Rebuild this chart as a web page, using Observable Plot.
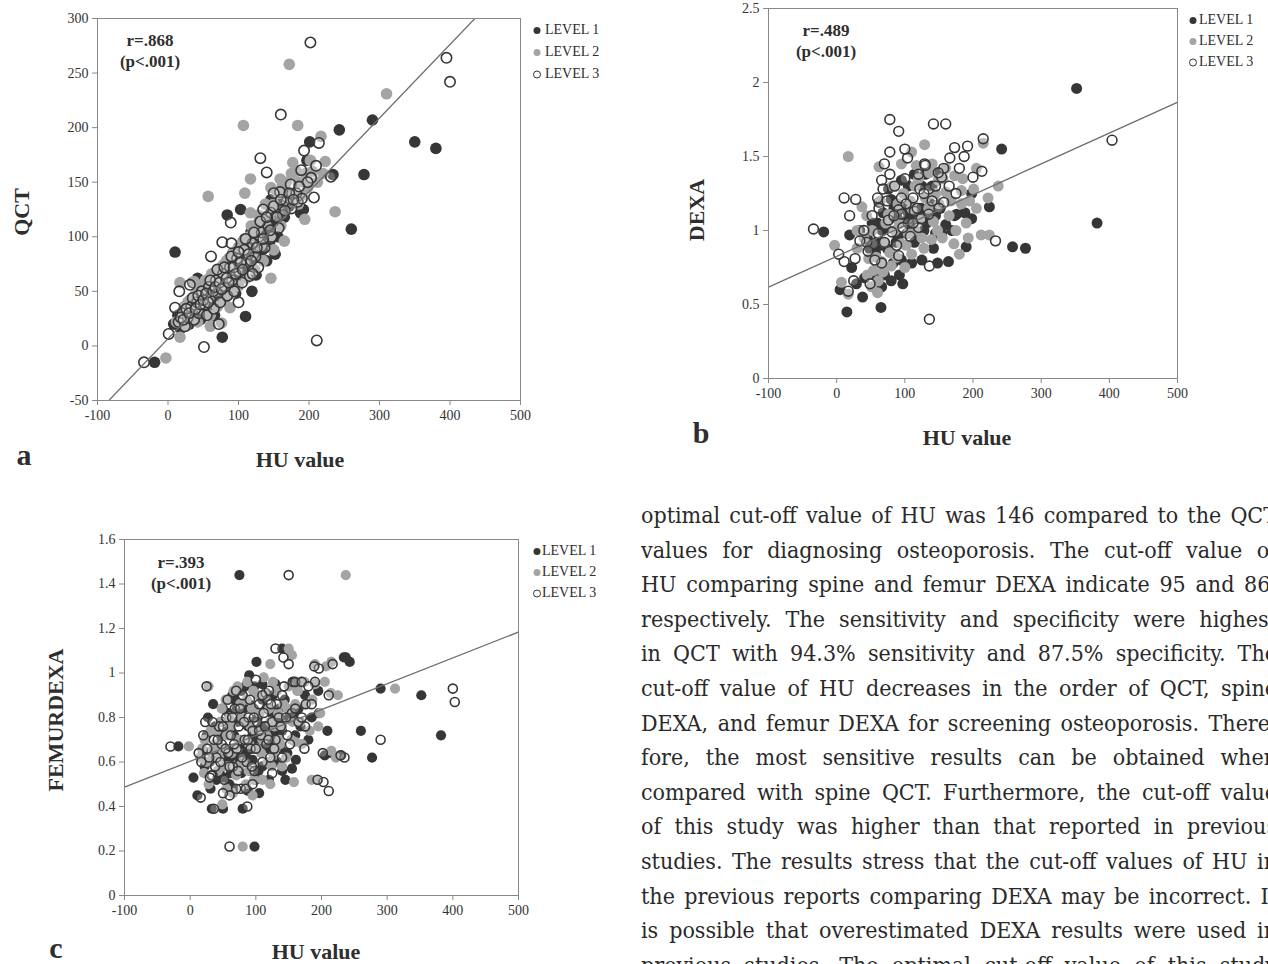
<!DOCTYPE html>
<html><head><meta charset="utf-8">
<script src="https://cdn.jsdelivr.net/npm/d3@7"></script>
<script src="https://cdn.jsdelivr.net/npm/@observablehq/plot@0.6"></script>
<style>
html,body{margin:0;padding:0;background:#fff;}
body{width:1268px;height:964px;overflow:hidden;position:relative;}
.abs{position:absolute;white-space:nowrap;}
.serif{font-family:"Liberation Serif","Times New Roman",serif;color:#2e2e2e;}
.title{font-weight:bold;font-size:22px;}
.stat{font-weight:bold;font-size:17px;text-align:center;line-height:20px;}
.letter{font-weight:bold;font-size:30px;}
.leg{font-size:14px;line-height:14px;}
.para{font-family:"DejaVu Serif Condensed","DejaVu Serif",serif;font-stretch:condensed;font-size:23px;color:#2a2a2a;
  text-align:justify;text-align-last:justify;overflow:hidden;height:34px;line-height:34px;}
</style></head><body>
<script>
// ---------- data ----------
const xTicks = [-100, 0, 100, 200, 300, 400, 500];
const yTicksA = [-50, 0, 50, 100, 150, 200, 250, 300];
const yTicksB = [0, 0.5, 1, 1.5, 2, 2.5];
const yTicksC = [0, 0.2, 0.4, 0.6, 0.8, 1, 1.2, 1.4, 1.6];
const levels = ["LEVEL 1", "LEVEL 2", "LEVEL 3"];
const statA = ["r=.868", "(p<.001)"];
const statB = ["r=.489", "(p<.001)"];
const statC = ["r=.393", "(p<.001)"];
const fitA = {slope: 0.674, intercept: 6.6};
const fitB = {slope: 0.002082, intercept: 0.825};
const fitC = {slope: 0.001162, intercept: 0.603};

// Panel a: HU value vs QCT
const a1 = [[-19,-15],[10,86],[77,8],[110,27],[119,50],[84,120],[103,125],[243,198],[290,207],[350,187],[380,181],[278,157],[234,157],[260,107],[201,187],[197,170],[146,134],[170,140],[192,125],
[8,20],[14,28],[18,16],[22,33],[26,24],[30,20],[33,36],[36,28],[40,42],[43,32],[46,24],[48,45],[51,37],[54,30],[56,52],[58,42],[61,35],[63,58],[65,48],[68,40],[70,64],[72,55],[75,45],[77,70],[79,60],[82,50],[85,78],[87,66],[90,56],[92,85],[95,72],[97,62],[100,90],[103,80],[106,68],[109,98],[112,86],[115,75],[118,105],[121,92],[124,82],[128,112],[131,100],[134,88],[138,118],[141,106],[144,95],[148,124],[152,112],[156,100],[160,130],[165,118],[172,128],[180,135],[188,122],[42,62],[35,58],[66,28],[96,48],[140,78],[152,84],[125,65],
[20,22],[24,30],[29,26],[34,30],[38,38],[41,30],[47,40],[50,46],[53,40],[57,48],[60,50],[64,52],[67,56],[70,50],[73,60],[76,62],[80,66],[83,70],[86,72],[89,75],[93,76],[96,80],[99,84],[102,72],[105,88],[108,80],[111,92],[114,94],[117,88],[122,100],[126,96],[130,106],[135,110],[139,100],[143,114],[150,118],[155,126],[162,122],[168,134],[175,138],[60,40],[72,48],[88,60],[100,70],[116,96]];
const a2 = [[-3,-11],[17,8],[76,21],[17,58],[37,59],[146,62],[57,137],[107,202],[184,202],[172,258],[310,231],[237,123],[194,116],[217,192],[177,168],[159,153],[223,169],[146,145],[117,153],[109,140],[117,122],
[12,22],[20,30],[25,18],[28,40],[32,28],[38,46],[42,22],[45,52],[50,34],[53,60],[57,44],[60,28],[62,66],[66,50],[70,36],[73,70],[76,56],[80,42],[83,78],[86,62],[90,48],[93,86],[97,70],[100,55],[104,92],[107,76],[111,62],[115,100],[119,84],[123,70],[127,108],[131,92],[135,78],[140,116],[145,100],[150,88],[155,124],[160,110],[165,96],[170,132],[178,140],[185,150],[190,138],[198,145],[205,160],[212,150],[220,158],[128,120],[160,140],[185,130],[202,170],[60,18],[88,35],
[18,24],[23,36],[27,32],[31,42],[35,36],[40,48],[44,40],[48,56],[52,48],[55,56],[59,62],[63,54],[67,62],[71,58],[74,64],[78,74],[82,68],[86,80],[90,76],[94,80],[98,88],[102,84],[106,96],[110,90],[114,86],[118,110],[122,104],[126,98],[130,116],[134,112],[138,130],[144,120],[150,130],[156,140],[162,146],[168,150],[175,158],[182,160],[195,158],[200,150]];
const a3 = [[-34,-15],[1,11],[10,35],[16,50],[31,56],[51,-1],[211,5],[202,278],[395,264],[400,242],[160,212],[131,172],[140,159],[189,161],[193,179],[214,186],[207,136],[159,141],[174,148],[89,113],[61,82],[77,95],[90,94],[131,97],[146,122],[163,128],[184,132],[203,154],[231,155],[210,165],
[15,22],[20,30],[24,18],[28,26],[33,36],[37,24],[41,40],[44,30],[48,50],[52,38],[55,28],[58,54],[62,44],[65,34],[68,60],[71,48],[74,40],[78,66],[81,54],[84,46],[88,72],[91,60],[94,50],[98,80],[101,68],[105,58],[108,88],[112,76],[116,64],[120,94],[124,82],[128,72],[133,104],[137,90],[142,110],[147,100],[152,118],[157,108],[163,120],[168,132],[175,126],[182,140],[190,135],[198,150],[120,66],[72,20],[100,40],[135,125],[150,140],
[18,26],[22,24],[26,34],[30,30],[35,44],[39,34],[43,46],[46,38],[50,42],[54,48],[57,40],[60,60],[64,50],[67,54],[70,70],[73,58],[76,52],[80,72],[83,62],[86,58],[90,82],[93,72],[96,66],[100,86],[103,76],[106,70],[110,98],[114,84],[118,78],[122,104],[126,90],[131,114],[135,98],[140,118],[145,106],[150,128],[155,118],[160,134],[166,124],[172,140],[178,134],[186,146]];

// Panel b: HU value vs DEXA
const b1 = [[352,1.96],[382,1.05],[242,1.55],[-19,0.99],[19,0.97],[15,0.45],[65,0.48],[38,0.55],[5,0.60],[97,0.64],[258,0.89],[277,0.88],[190,0.89],[164,0.79],[148,0.78],[176,1.11],[188,1.12],[198,1.08],[224,1.16],[154,0.98],[169,1.0],[142,0.88],[29,0.64],[22,0.75],[59,0.60],[34,1.0],[114,0.92],[83,0.78],[95,0.80],[70,0.70],[41,0.68],[114,1.38],[76,1.28],[62,1.19],[173,1.10],[130,1.38],[150,1.39],[145,1.10],[198,1.25],[80,1.21],[88,1.1],[100,1.06],[105,1.12],[120,1.08],[128,1.0],[135,1.12],[58,0.92],[48,0.88],[72,1.02],[90,0.96],[110,0.78],[125,0.80],[160,1.04],[68,1.12],[95,1.34],
[45,0.95],[52,1.05],[57,0.85],[63,0.90],[67,1.00],[74,0.88],[78,1.08],[84,1.15],[87,0.92],[93,1.05],[98,1.15],[103,0.98],[108,1.03],[112,1.10],[118,0.95],[124,1.15],[132,1.05],[138,1.18],[145,0.98],[152,1.15],[66,0.62],[80,0.66],[55,0.70],[92,0.70],[125,1.30],[105,1.30],[140,1.30],[60,1.05]];
const b2 = [[17,1.50],[129,1.58],[215,1.59],[110,1.53],[62,1.43],[237,1.30],[222,1.22],[201,1.28],[183,1.27],[173,1.37],[117,1.44],[149,1.34],[37,1.16],[183,1.18],[136,1.39],[-3,0.90],[193,0.95],[212,0.97],[224,0.97],[172,0.91],[47,0.81],[54,0.73],[66,0.79],[95,0.91],[110,0.84],[139,0.94],[17,0.57],[51,0.62],[105,0.98],[122,1.07],[142,1.06],[110,1.15],[76,1.11],[44,1.10],[7,0.65],[61,0.66],[85,1.0],[100,0.75],[125,0.95],[150,1.18],[160,1.26],[165,1.10],[190,1.05],[205,1.42],[160,1.42],[180,0.84],[130,1.22],[90,1.18],[70,0.92],[30,0.88],[155,0.95],[115,1.30],[145,1.25],
[30,1.0],[40,0.95],[45,0.70],[52,1.0],[58,0.82],[64,1.20],[68,0.72],[72,1.05],[78,0.85],[82,1.30],[88,0.82],[92,1.05],[98,1.25],[102,0.90],[108,1.20],[115,1.0],[120,1.35],[128,0.88],[135,1.15],[140,1.45],[148,1.00],[156,1.35],[168,1.20],[175,1.0],[185,1.35],[195,1.20],[205,1.15],[60,0.58],[80,0.76],[95,1.45]];
const b3 = [[78,1.75],[91,1.67],[142,1.72],[160,1.72],[78,1.53],[104,1.49],[129,1.45],[173,1.56],[192,1.57],[215,1.62],[187,1.50],[166,1.49],[213,1.40],[180,1.42],[200,1.36],[11,1.22],[28,1.21],[19,1.10],[66,1.34],[78,1.38],[100,1.35],[157,1.42],[154,1.36],[149,1.39],[95,1.22],[112,1.22],[135,1.28],[122,1.28],[157,1.19],[62,1.15],[91,1.14],[-34,1.01],[11,0.79],[136,0.76],[136,0.40],[233,0.93],[3,0.84],[25,0.66],[17,0.59],[49,0.64],[27,0.81],[66,0.78],[91,0.83],[76,1.07],[61,0.98],[54,0.91],[114,1.13],[135,1.11],[95,1.11],[81,0.99],[44,0.92],[34,0.93],[404,1.61],[130,1.44],[105,1.05],[120,1.02],[68,1.28],
[40,1.0],[46,0.86],[52,1.10],[56,0.80],[60,1.22],[70,0.92],[74,1.20],[84,1.10],[88,0.90],[97,1.02],[102,1.18],[108,0.96],[112,1.05],[118,1.15],[124,1.08],[128,1.25],[140,1.20],[145,1.30],[150,1.15],[165,1.30],[175,1.25],[100,1.55],[85,1.30],[70,1.45],[120,1.38]];

// Panel c: HU value vs FEMURDEXA
const c1 = [[75,1.44],[98,0.22],[-18,0.67],[290,0.93],[352,0.90],[382,0.72],[260,0.74],[277,0.62],[237,1.07],[243,1.05],[209,0.74],[205,0.63],[230,0.63],[101,1.05],[90,0.99],[140,1.11],[156,0.96],[35,0.86],[5,0.53],[11,0.45],[31,0.48],[33,0.39],[50,0.39],[80,0.39],[105,0.46],[196,0.82],[161,0.61],[110,0.58],[95,0.61],[51,0.53],[123,0.68],[234,1.07],
[20,0.65],[25,0.72],[30,0.60],[38,0.76],[42,0.68],[45,0.55],[48,0.78],[55,0.62],[58,0.82],[60,0.50],[62,0.74],[65,0.66],[68,0.88],[70,0.58],[72,0.78],[75,0.70],[78,0.92],[82,0.84],[85,0.64],[88,0.76],[90,0.86],[92,0.56],[95,0.72],[98,0.94],[103,0.80],[106,0.68],[110,0.88],[115,0.76],[118,0.90],[120,0.66],[124,0.82],[128,0.72],[130,0.95],[133,0.60],[136,0.84],[140,0.74],[145,0.52],[150,0.80],[155,0.57],[160,0.72],[165,0.84],[170,0.96],[180,0.70],[195,0.92],[215,0.64],[62,0.55],[88,0.47],[120,0.52],
[22,0.58],[27,0.80],[36,0.64],[40,0.52],[46,0.72],[50,0.84],[53,0.66],[57,0.74],[61,0.62],[64,0.90],[67,0.72],[71,0.84],[74,0.62],[77,0.80],[80,0.68],[84,0.94],[87,0.60],[91,0.78],[94,0.66],[97,0.84],[100,0.70],[104,0.56],[108,0.76],[112,0.66],[116,0.84],[122,0.74],[126,0.90],[132,0.78],[138,0.66],[144,0.88],[148,0.64],[158,0.82],[168,0.76],[175,0.90],[185,0.80],[66,0.48],[78,0.55],[100,0.52],[140,0.56],[110,0.95]];
const c2 = [[237,1.44],[80,0.22],[-2,0.67],[312,0.93],[28,0.94],[150,1.11],[155,1.08],[122,1.04],[190,1.04],[207,1.03],[215,1.05],[225,0.90],[158,0.51],[185,0.52],[194,0.52],[215,0.65],[160,0.69],[137,0.68],[49,0.41],[21,0.55],[34,0.62],[122,0.50],[127,0.63],[163,0.92],[214,0.91],
[15,0.62],[22,0.70],[28,0.50],[35,0.66],[40,0.74],[44,0.62],[48,0.84],[52,0.58],[56,0.72],[60,0.80],[63,0.64],[66,0.92],[70,0.54],[73,0.70],[76,0.86],[80,0.60],[84,0.78],[87,0.96],[90,0.68],[94,0.84],[97,0.52],[100,0.74],[104,0.90],[108,0.64],[112,0.98],[116,0.72],[120,0.84],[124,0.58],[128,0.76],[132,0.92],[136,0.70],[142,0.86],[146,0.62],[150,0.94],[156,0.78],[164,0.92],[170,0.68],[176,0.86],[182,0.74],[190,0.95],[198,0.82],[205,0.96],[222,0.62],[65,0.46],[95,0.45],
[18,0.66],[25,0.60],[31,0.74],[38,0.68],[42,0.56],[46,0.78],[50,0.66],[54,0.88],[58,0.58],[62,0.76],[68,0.66],[72,0.94],[75,0.58],[79,0.80],[82,0.70],[86,0.88],[89,0.56],[92,0.76],[96,0.92],[102,0.66],[106,0.82],[110,0.70],[114,0.90],[118,0.60],[122,0.78],[126,0.96],[130,0.66],[134,0.82],[140,0.76],[148,0.84],[154,0.70],[160,0.86],[168,0.78],[174,0.96],[186,0.88],[195,0.76],[55,0.48],[85,0.50],[110,0.52],[140,0.58]];
const c3 = [[150,1.44],[60,0.22],[-30,0.67],[290,0.70],[400,0.93],[403,0.87],[235,0.62],[211,0.47],[203,0.51],[194,0.52],[174,0.66],[202,0.64],[229,0.63],[211,0.90],[176,0.86],[190,0.96],[196,1.02],[189,1.03],[217,1.04],[130,1.11],[142,1.07],[150,1.04],[157,0.96],[115,0.91],[118,0.88],[87,0.40],[16,0.44],[36,0.39],[13,0.64],[34,0.54],[25,0.94],[100,0.97],[105,0.86],[120,0.92],[160,0.96],[170,0.96],[175,0.76],[140,0.62],[122,0.62],
[20,0.72],[26,0.66],[32,0.54],[36,0.70],[40,0.62],[44,0.76],[48,0.68],[52,0.52],[55,0.80],[58,0.64],[62,0.72],[65,0.58],[68,0.84],[71,0.66],[74,0.76],[77,0.48],[80,0.90],[83,0.70],[86,0.60],[89,0.80],[92,0.66],[95,0.74],[98,0.56],[102,0.78],[108,0.72],[112,0.82],[116,0.68],[125,0.78],[132,0.86],[138,0.76],[143,0.94],[148,0.72],[155,0.82],[165,0.78],[185,0.86],[130,0.70],[60,0.45],[85,0.48],[110,0.60],[30,0.53],
[17,0.60],[23,0.78],[29,0.62],[34,0.78],[38,0.58],[42,0.70],[46,0.60],[50,0.76],[54,0.66],[57,0.88],[60,0.58],[64,0.80],[67,0.68],[70,0.92],[73,0.56],[76,0.84],[79,0.62],[82,0.78],[88,0.70],[91,0.88],[94,0.58],[97,0.80],[100,0.66],[105,0.74],[110,0.90],[114,0.76],[119,0.70],[123,0.86],[128,0.66],[135,0.80],[140,0.90],[146,0.80],[152,0.68],[160,0.84],[170,0.80],[180,0.94],[70,0.48],[95,0.50],[50,0.46],[125,0.55]];

const paragraph = [
"optimal cut-off value of HU was 146 compared to the QCT",
"values for diagnosing osteoporosis. The cut-off value of",
"HU comparing spine and femur DEXA indicate 95 and 86,",
"respectively. The sensitivity and specificity were highest",
"in QCT with 94.3% sensitivity and 87.5% specificity. The",
"cut-off value of HU decreases in the order of QCT, spine",
"DEXA, and femur DEXA for screening osteoporosis. There-",
"fore, the most sensitive results can be obtained when",
"compared with spine QCT. Furthermore, the cut-off value",
"of this study was higher than that reported in previous",
"studies. The results stress that the cut-off values of HU in",
"the previous reports comparing DEXA may be incorrect. It",
"is possible that overestimated DEXA results were used in",
"previous studies. The optimal cut-off value of this study"
];

// ---------- styles ----------
const dark = "#363636", gray = "#a4a4a4", ring = "#363636";
const body = document.body;

function addText(txt, x, y, cls, rotate) {
  const d = document.createElement("div");
  d.className = "abs serif " + cls;
  d.style.left = x + "px"; d.style.top = y + "px";
  d.style.transform = "translate(-50%,-50%)" + (rotate ? " rotate(-90deg)" : "");
  d.textContent = txt;
  body.appendChild(d);
  return d;
}

function addLegend(cx, tx, ys) {
  const fills = [dark, gray, "#fff"];
  levels.forEach((lab, i) => {
    const row = document.createElement("div");
    row.className = "abs serif leg";
    row.style.left = (cx - 4) + "px";
    row.style.top = (ys[i] - 7) + "px";
    row.innerHTML = `<svg width="${tx - cx + 4}" height="14" style="vertical-align:top"><circle cx="4" cy="7.5" r="3.5" fill="${fills[i]}" stroke="${i === 2 ? ring : "none"}" stroke-width="1"/></svg>`;
    const s = document.createElement("span");
    s.textContent = lab;
    row.appendChild(s);
    body.appendChild(row);
  });
}

function panel(cfg) {
  const fitPts = [-100, 500].map(x => ({x, y: cfg.fit.intercept + cfg.fit.slope * x}));
  const P = (arr) => arr.map(([x, y]) => ({x, y}));
  const svg = Plot.plot({
    width: cfg.w, height: cfg.h,
    marginLeft: cfg.ml, marginRight: cfg.mr, marginTop: cfg.mt, marginBottom: cfg.mb,
    style: {fontFamily: '"Liberation Serif", "Times New Roman", serif', fontSize: "14px", background: "transparent", color: "#333", overflow: "visible"},
    x: {domain: [-100, 500]},
    y: {domain: cfg.yDomain},
    marks: [
      Plot.axisX({ticks: xTicks, tickFormat: d => String(d), tickSize: 5, tickPadding: 5, label: null, stroke: "#888", fill: "#333"}),
      Plot.axisY({ticks: cfg.yTicks, tickFormat: d => String(d), tickSize: 5, tickPadding: 4, label: null, stroke: "#888", fill: "#333"}),
      Plot.dot(P(cfg.series[0]), {x: "x", y: "y", r: cfg.r, fill: dark}),
      Plot.dot(P(cfg.series[1]), {x: "x", y: "y", r: cfg.r, fill: gray}),
      Plot.dot(P(cfg.series[2]), {x: "x", y: "y", r: cfg.r - 0.6, fill: "#fff", fillOpacity: 0.25, stroke: ring, strokeWidth: 1.6}),
      Plot.line(fitPts, {x: "x", y: "y", stroke: "#6e6e6e", strokeWidth: 1.3, clip: true}),
      Plot.frame({stroke: "#888"})
    ]
  });
  const wrap = document.createElement("div");
  wrap.className = "abs";
  wrap.style.left = cfg.left + "px"; wrap.style.top = cfg.top + "px";
  wrap.appendChild(svg);
  body.appendChild(wrap);
}

// Panel a
panel({left: 0, top: 0, w: 620, h: 480, ml: 97, mr: 100, mt: 18, mb: 80,
  yDomain: [-50, 300], yTicks: yTicksA, series: [a1, a2, a3], fit: fitA, r: 5.8});
addText(statA[0], 150, 41, "stat");
addText(statA[1], 150, 62, "stat");
addText("QCT", 22, 212, "title", true);
addText("HU value", 300, 460, "title");
addText("a", 24, 455, "letter");
addLegend(537, 545, [30, 52, 74]);

// Panel b
panel({left: 680, top: 0, w: 588, h: 460, ml: 88, mr: 91, mt: 8, mb: 82,
  yDomain: [0, 2.5], yTicks: yTicksB, series: [b1, b2, b3], fit: fitB, r: 5.5});
addText(statB[0], 826, 31, "stat");
addText(statB[1], 826, 52, "stat");
addText("DEXA", 697, 210, "title", true);
addText("HU value", 967, 438, "title");
addText("b", 701, 433, "letter");
addLegend(1193, 1199, [20, 41, 62]);

// Panel c
panel({left: 0, top: 520, w: 620, h: 444, ml: 124, mr: 102, mt: 19, mb: 69,
  yDomain: [0, 1.6], yTicks: yTicksC, series: [c1, c2, c3], fit: fitC, r: 5.1});
addText(statC[0], 181, 563, "stat");
addText(statC[1], 181, 584, "stat");
addText("FEMURDEXA", 56, 720, "title", true);
addText("HU value", 316, 952, "title");
addText("c", 56, 948, "letter");
addLegend(537, 542, [551, 572, 593]);

// Body text column (clipped by the page edge, as in the source)
paragraph.forEach((line, i) => {
  const d = document.createElement("div");
  d.className = "abs para";
  d.style.left = "641px";
  d.style.width = "636px";
  d.style.top = (515 + 34.6 * i - 17) + "px";
  d.textContent = line;
  body.appendChild(d);
});
</script>
</body></html>
